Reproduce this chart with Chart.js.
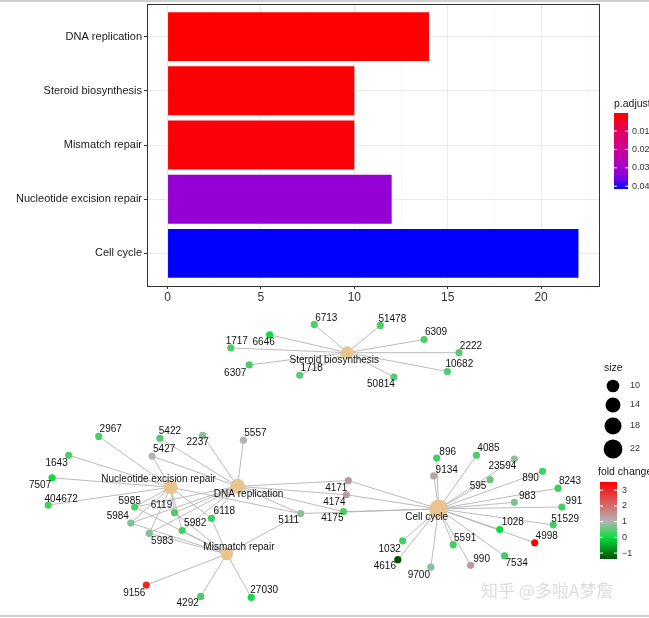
<!DOCTYPE html>
<html>
<head>
<meta charset="utf-8">
<script src="https://cdn.jsdelivr.net/npm/chart.js@4/dist/chart.umd.min.js"></script>
<style>
    html, body { margin: 0; padding: 0; background: #fff; }
    body { width: 649px; height: 618px; position: relative; overflow: hidden; }
    canvas { position: absolute; left: 0; }
    #grafico-barras { top: 0; }
    #grafico-red { top: 300px; }
    .borde { position: absolute; left: 0; width: 649px; height: 2px; background: #cfcfcf; }
</style>
</head>
<body>
<div class="borde" style="top:0"></div>
<canvas id="grafico-barras" width="649" height="306"></canvas>
<canvas id="grafico-red" width="649" height="318"></canvas>
<div class="borde" style="top:615px"></div>

<script>
// ---- datos ----
const categorias = ["DNA replication", "Steroid biosynthesis", "Mismatch repair", "Nucleotide excision repair", "Cell cycle"];
const conteos = [14, 10, 10, 12, 22];
const pAjustado = [0.0002, 0.0008, 0.0009, 0.032, 0.0415];
const ticksX = [0, 5, 10, 15, 20];
const ticksXMenores = [2.5, 7.5, 12.5, 17.5, 22.5];
const ticksP = [0.01, 0.02, 0.03, 0.04];
const ticksFold = [3, 2, 1, 0, -1];
const tamaniosLeyenda = [10, 14, 18, 22];

// posiciones del layout de la red (unidades del layout)
const categoriaX = [235, 348, 224, 166, 442];
const categoriaY = [488, 346, 560, 489, 512];

const genes = ["6713", "51478", "6309", "2222", "10682", "50814", "1718", "6307", "1717", "6646",
    "2967", "5422", "2237", "5557", "5427", "1643", "7507", "404672", "5985", "6119", "5984", "6118", "5982", "5983", "5111", "9156", "4292", "27030",
    "896", "4085", "23594", "9134", "595", "890", "8243", "983", "991", "51529", "1028", "4998", "5591", "7534", "990", "1032", "4616", "9700", "4171", "4174", "4175"];
const genX = [314, 382, 427, 463, 451, 396, 299, 247, 228, 268,
    92, 155, 199, 241, 147, 61, 44, 40, 129, 170, 125, 208, 178, 144, 300, 141, 197, 249,
    440, 481, 520, 437, 495, 549, 565, 520, 569, 560, 505, 541, 457, 510, 475, 405, 400, 434, 349, 347, 344];
const genY = [316, 317, 332, 346, 366, 372, 370, 359, 341, 327,
    435, 437, 434, 439, 456, 455, 479, 508, 510, 516, 527, 522, 535, 538, 517, 593, 605, 606,
    458, 455, 459, 477, 481, 472, 490, 505, 510, 529, 534, 548, 550, 562, 572, 546, 566, 574, 482, 497, 515];
const foldChange = [0.4, 0.4, 0.4, 0.45, 0.4, 0.45, 0.5, 0.4, 0.4, 0.05,
    0.4, 0.4, 0.75, 1.0, 1.0, 0.4, 0.0, 0.35, 0.4, 0.4, 0.7, 0.3, 0.35, 0.7, 0.75, 3.0, 0.4, 0.05,
    0.35, 0.4, 0.8, 1.25, 0.55, 0.35, 0.3, 0.65, 0.35, 0.35, 0.05, 3.53, 0.35, 0.3, 1.4, 0.35, -1.38, 0.75, 1.35, 1.35, 0.4];

const genesDnaReplication = ["4171", "4174", "4175", "5111", "5422", "5427", "5557", "5982", "5983", "5984", "5985", "6118", "6119", "2237"];
const genesSteroid = ["6713", "51478", "6309", "2222", "10682", "50814", "1718", "6307", "1717", "6646"];
const genesMismatch = ["5111", "5982", "5983", "5984", "5985", "6118", "6119", "27030", "4292", "9156"];
const genesNer = ["2967", "1643", "7507", "404672", "5111", "5982", "5983", "5984", "5985", "6118", "6119", "5427"];
const genesCellCycle = ["896", "4085", "23594", "9134", "595", "890", "8243", "983", "991", "51529", "1028", "4998",
    "5591", "7534", "990", "1032", "4616", "9700", "4171", "4174", "4175", "5111"];
const genesPorCategoria = [genesDnaReplication, genesSteroid, genesMismatch, genesNer, genesCellCycle];

// desplazamiento de etiquetas (px)
const etiquetaGenDx = [12, 12, 12, 12, 12, -13, 12, -14, 6, -6,
    12, 10, -5, 12, 12, -12, -12, 13, -5, -13, -13, 13, 13, 13, -12, -12, -13, 13,
    11, 12, -12, 13, -12, -12, 12, 13, 12, 12, 13, 12, 12, 12, 11, -13, -13, -12, -12, -12, -11];
const etiquetaGenDy = [-6, -6, -7, -6, -7, 7, -7, 8, -7, 7,
    -7, -7, 7, -7, -7, 8, 7, -6, -6, -7, -7, -7, -7, 8, 7, 8, 7, -7,
    -6, -7, 7, -6, 7, 7, -7, -6, -6, -6, -7, -6, -6, 7, -6, 8, 7, 8, 8, 7, 7];
const etiquetaCatDx = [11, -13, 12, -12, -12];
const etiquetaCatDy = [8, 8, -7, -8, 8];

const FUENTE = '"Liberation Sans", Arial, sans-serif';

// ---- colores ----
const escalaP = [[0, [255, 0, 0]], [0.25, [226, 0, 96]], [0.5, [200, 0, 154]], [0.75, [156, 0, 208]], [0.875, [112, 0, 232]], [1, [0, 0, 255]]];
const pMin = Math.min(...pAjustado), pMax = Math.max(...pAjustado);
const escalaFold = [[-1.38, [5, 80, 5]], [0, [10, 220, 60]], [1, [180, 180, 180]], [3.53, [255, 0, 0]]];
const fMin = Math.min(...foldChange), fMax = Math.max(...foldChange);

function mezclar(paradas, v) {
    v = Math.max(paradas[0][0], Math.min(paradas[paradas.length - 1][0], v));
    for (let i = 1; i < paradas.length; i++) {
        if (v <= paradas[i][0]) {
            const [t0, c0] = paradas[i - 1], [t1, c1] = paradas[i];
            const f = (v - t0) / (t1 - t0);
            return "rgb(" + c0.map((c, k) => Math.round(c + (c1[k] - c) * f)).join(",") + ")";
        }
    }
}
const colorP = p => mezclar(escalaP, (p - pMin) / (pMax - pMin));
const colorFold = f => mezclar(escalaFold, f);

// ---- grafico de barras ----
const marcoPanel = {
    id: "marcoPanel",
    afterDatasetsDraw(chart) {
        const { ctx, chartArea: a } = chart;
        ctx.save();
        ctx.strokeStyle = "#333";
        ctx.lineWidth = 1;
        ctx.strokeRect(Math.round(a.left) + 0.5, Math.round(a.top) + 0.5, Math.round(a.width), Math.round(a.height));
        ctx.restore();
    }
};

const leyendaP = {
    id: "leyendaP",
    afterDraw(chart) {
        const { ctx, chartArea: a } = chart;
        const x = a.right + 15, arriba = 113, alto = 76, ancho = 14;
        ctx.save();
        ctx.fillStyle = "#1a1a1a";
        ctx.font = "10.5px " + FUENTE;
        ctx.textBaseline = "middle";
        ctx.fillText("p.adjust", x, 104);
        const g = ctx.createLinearGradient(0, arriba, 0, arriba + alto);
        escalaP.forEach(([t, c]) => g.addColorStop(t, "rgb(" + c.join(",") + ")"));
        ctx.fillStyle = g;
        ctx.fillRect(x, arriba, ancho, alto);
        ctx.font = "9px " + FUENTE;
        ticksP.forEach(p => {
            const y = arriba + (p - pMin) / (pMax - pMin) * alto;
            ctx.strokeStyle = "#fff";
            ctx.beginPath();
            ctx.moveTo(x, y); ctx.lineTo(x + 3, y);
            ctx.moveTo(x + ancho - 3, y); ctx.lineTo(x + ancho, y);
            ctx.stroke();
            ctx.fillStyle = "#333";
            ctx.fillText(p.toFixed(2), x + ancho + 4, y);
        });
        ctx.restore();
    }
};

new Chart(document.getElementById("grafico-barras"), {
    type: "bar",
    data: {
        datasets: [{
            data: categorias.map((c, i) => ({ x: conteos[i], y: i })),
            backgroundColor: pAjustado.map(colorP),
            borderWidth: 0,
            barPercentage: 0.9,
            categoryPercentage: 1
        }]
    },
    options: {
        indexAxis: "y",
        responsive: false,
        animation: false,
        events: [],
        devicePixelRatio: 1,
        layout: { padding: { left: 0, top: 4, right: 50, bottom: 0 } },
        plugins: { legend: { display: false }, tooltip: { enabled: false } },
        scales: {
            x: {
                type: "linear",
                min: -1.1,
                max: 23.1,
                afterBuildTicks: s => { s.ticks = ticksX.concat(ticksXMenores).sort((a, b) => a - b).map(v => ({ value: v })); },
                afterFit: s => { s.height = 20; s.paddingLeft = 0; s.paddingRight = 0; },
                border: { display: false },
                grid: {
                    color: c => ticksX.includes(c.tick.value) ? "#EBEBEB" : "#F4F4F4",
                    lineWidth: c => ticksX.includes(c.tick.value) ? 1 : 0.6,
                    tickColor: c => ticksX.includes(c.tick.value) ? "#333" : "rgba(0,0,0,0)",
                    tickLength: 3
                },
                ticks: {
                    autoSkip: false,
                    maxRotation: 0,
                    padding: 1,
                    color: "#333",
                    font: { size: 12, family: FUENTE },
                    callback: v => ticksX.includes(v) ? String(v) : ""
                }
            },
            y: {
                type: "linear",
                min: -0.6,
                max: 4.6,
                reverse: true,
                offset: false,
                afterBuildTicks: s => { s.ticks = categorias.map((c, i) => ({ value: i })); },
                afterFit: s => { s.width = 147; s.paddingTop = 0; s.paddingBottom = 0; },
                border: { display: false },
                grid: { color: "#EBEBEB", tickColor: "#333", tickLength: 3, offset: false },
                ticks: {
                    autoSkip: false,
                    padding: 2,
                    color: "#1a1a1a",
                    font: { size: 11, family: FUENTE },
                    callback: v => categorias[v]
                }
            }
        }
    },
    plugins: [marcoPanel, leyendaP]
});

// ---- red de genes ----
const indiceGen = {};
genes.forEach((g, i) => { indiceGen[g] = i; });

const aristas = {
    id: "aristas",
    beforeDatasetsDraw(chart) {
        const { ctx, scales: { x, y } } = chart;
        ctx.save();
        ctx.strokeStyle = "rgba(175,175,175,0.85)";
        ctx.lineWidth = 1;
        genesPorCategoria.forEach((lista, c) => {
            const cx = x.getPixelForValue(categoriaX[c]), cy = y.getPixelForValue(categoriaY[c]);
            lista.forEach(g => {
                const i = indiceGen[g];
                ctx.beginPath();
                ctx.moveTo(cx, cy);
                ctx.lineTo(x.getPixelForValue(genX[i]), y.getPixelForValue(genY[i]));
                ctx.stroke();
            });
        });
        ctx.restore();
    }
};

const etiquetas = {
    id: "etiquetas",
    afterDatasetsDraw(chart) {
        const { ctx, scales: { x, y } } = chart;
        ctx.save();
        ctx.fillStyle = "#111";
        ctx.textAlign = "center";
        ctx.textBaseline = "middle";
        ctx.font = "10px " + FUENTE;
        genes.forEach((g, i) => {
            ctx.fillText(g, x.getPixelForValue(genX[i]) + etiquetaGenDx[i], y.getPixelForValue(genY[i]) + etiquetaGenDy[i]);
        });
        categorias.forEach((c, i) => {
            ctx.fillText(c, x.getPixelForValue(categoriaX[i]) + etiquetaCatDx[i], y.getPixelForValue(categoriaY[i]) + etiquetaCatDy[i]);
        });
        ctx.restore();
    }
};

const leyendasRed = {
    id: "leyendasRed",
    afterDraw(chart) {
        const { ctx } = chart;
        ctx.save();
        ctx.textBaseline = "middle";
        // tamanio
        ctx.fillStyle = "#1a1a1a";
        ctx.font = "10.5px " + FUENTE;
        ctx.fillText("size", 604, 68);
        const yCirculos = [86, 105, 126, 149];
        ctx.font = "9px " + FUENTE;
        tamaniosLeyenda.forEach((n, i) => {
            ctx.fillStyle = "#000";
            ctx.beginPath();
            ctx.arc(613, yCirculos[i], 2 * Math.sqrt(n), 0, Math.PI * 2);
            ctx.fill();
            ctx.fillStyle = "#333";
            ctx.fillText(String(n), 630, yCirculos[i]);
        });
        // fold change
        ctx.fillStyle = "#1a1a1a";
        ctx.font = "10.5px " + FUENTE;
        ctx.fillText("fold change", 598, 172);
        const x0 = 600, arriba = 182, alto = 77, ancho = 17;
        const g = ctx.createLinearGradient(0, arriba, 0, arriba + alto);
        escalaFold.forEach(([v, c]) => g.addColorStop((fMax - v) / (fMax - fMin), "rgb(" + c.join(",") + ")"));
        ctx.fillStyle = g;
        ctx.fillRect(x0, arriba, ancho, alto);
        ctx.font = "9px " + FUENTE;
        ticksFold.forEach(v => {
            const yy = arriba + (fMax - v) / (fMax - fMin) * alto;
            ctx.strokeStyle = "#fff";
            ctx.beginPath();
            ctx.moveTo(x0, yy); ctx.lineTo(x0 + 3, yy);
            ctx.moveTo(x0 + ancho - 3, yy); ctx.lineTo(x0 + ancho, yy);
            ctx.stroke();
            ctx.fillStyle = "#333";
            ctx.fillText(v < 0 ? "\u2212" + Math.abs(v) : String(v), x0 + ancho + 5, yy);
        });
        // marca de agua
        ctx.fillStyle = "rgba(205,205,205,0.7)";
        ctx.font = '17px "Noto Sans CJK SC", sans-serif';
        ctx.fillText("知乎 @多啦A梦詹", 481, 291);
        ctx.restore();
    }
};

new Chart(document.getElementById("grafico-red"), {
    type: "scatter",
    data: {
        datasets: [
            {
                data: genes.map((g, i) => ({ x: genX[i], y: genY[i] })),
                pointRadius: 3.6,
                pointBorderWidth: 0,
                pointBackgroundColor: foldChange.map(colorFold),
                clip: false
            },
            {
                data: categorias.map((c, i) => ({ x: categoriaX[i], y: categoriaY[i] })),
                pointRadius: conteos.map(n => 2 * Math.sqrt(n)),
                pointBorderWidth: 0,
                pointBackgroundColor: "#E8C48E",
                clip: false
            }
        ]
    },
    options: {
        responsive: false,
        animation: false,
        events: [],
        devicePixelRatio: 1,
        layout: { padding: 0 },
        plugins: { legend: { display: false }, tooltip: { enabled: false } },
        scales: {
            x: { type: "linear", display: false, min: 0, max: 649 },
            y: { type: "linear", display: false, min: 300, max: 618, reverse: true }
        }
    },
    plugins: [aristas, etiquetas, leyendasRed]
});
</script>
</body>
</html>
